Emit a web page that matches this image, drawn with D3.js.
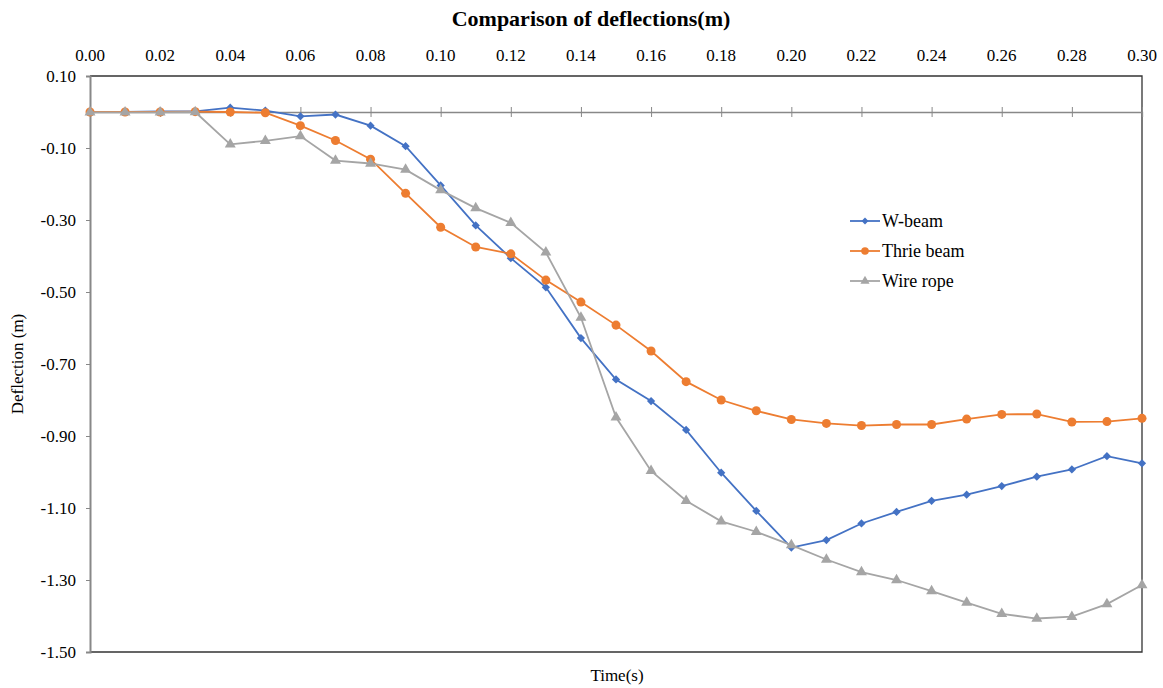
<!DOCTYPE html>
<meta charset="utf-8">
<style>
  body { margin: 0; background: white; }
  svg text { font-family: "Liberation Serif", "Times New Roman", Times, "DejaVu Serif", serif !important; fill: #000; }
</style>
<script src="https://cdn.jsdelivr.net/npm/d3@7"></script>
<body>
<div id="chart"></div>
<script>
// time steps (s)
const times = d3.range(0, 31).map(i => +(i * 0.01).toFixed(2));

// deflections (m)
const wBeam = [0, 0, 0.002, 0.002, 0.012, 0.004, -0.012, -0.007, -0.038, -0.095,
  -0.204, -0.315, -0.406, -0.487, -0.628, -0.743, -0.803, -0.883, -1.002, -1.108,
  -1.210, -1.189, -1.143, -1.111, -1.080, -1.063, -1.039, -1.013, -0.993, -0.956, -0.976];
const thrieBeam = [0, 0, 0, 0.001, 0, -0.002, -0.038, -0.079, -0.131, -0.226,
  -0.320, -0.375, -0.394, -0.467, -0.528, -0.592, -0.664, -0.749, -0.800, -0.830,
  -0.854, -0.865, -0.871, -0.868, -0.868, -0.853, -0.840, -0.839, -0.861, -0.860, -0.851];
const wireRope = [-0.001, -0.001, -0.001, 0, -0.090, -0.080, -0.067, -0.135, -0.143, -0.160,
  -0.217, -0.267, -0.308, -0.390, -0.571, -0.848, -0.997, -1.080, -1.137, -1.166,
  -1.203, -1.243, -1.278, -1.300, -1.331, -1.363, -1.394, -1.407, -1.402, -1.367, -1.314];

const xTicks = d3.range(0, 16).map(i => +(i * 0.02).toFixed(2));
const yTicks = [0.1, -0.1, -0.3, -0.5, -0.7, -0.9, -1.1, -1.3, -1.5];

// diamond = square turned 45 degrees
const series = [
  {name: "W-beam", values: wBeam, color: "#4472C4", symbol: d3.symbolSquare, size: 34, rot: 45},
  {name: "Thrie beam", values: thrieBeam, color: "#ED7D31", symbol: d3.symbolCircle, size: 64, rot: 0},
  {name: "Wire rope", values: wireRope, color: "#A5A5A5", symbol: d3.symbolTriangle, size: 52, rot: 0}
];

const width = 1163, height = 688;
const margin = {top: 76, right: 21, bottom: 36, left: 90};

const svg = d3.select("#chart").append("svg")
  .attr("width", width)
  .attr("height", height);

const x = d3.scaleLinear().domain([0, 0.30]).range([margin.left, width - margin.right]);
const y = d3.scaleLinear().domain([-1.5, 0.1]).range([height - margin.bottom, margin.top]);

// plot border (top, right, bottom)
svg.append("path")
  .attr("d", `M${x(0)},${y(0.1)}H${x(0.3)}V${y(-1.5)}H${x(0)}`)
  .attr("fill", "none")
  .attr("stroke", "#333")
  .attr("stroke-width", 1.3);

// zero line with ticks crossing it
const zeroAxis = svg.append("g")
  .attr("transform", `translate(0,${y(0)})`)
  .call(d3.axisBottom(x).tickValues(xTicks).tickSize(5).tickFormat(""));
zeroAxis.select(".domain").attr("stroke", "#888").attr("stroke-width", 1.3);
zeroAxis.selectAll(".tick line").attr("stroke", "#888").attr("y1", -5);

// x tick labels along top
svg.append("g").selectAll("text")
  .data(xTicks)
  .join("text")
    .attr("x", d => x(d))
    .attr("y", 61)
    .attr("text-anchor", "middle")
    .style("font-size", "17px")
    .text(d => d.toFixed(2));

// y axis on the left
const yAxis = svg.append("g")
  .attr("transform", `translate(${x(0)},0)`)
  .call(d3.axisLeft(y).tickValues(yTicks).tickSize(4).tickPadding(10).tickFormat(d3.format(".2f")));
yAxis.attr("font-family", null);
yAxis.select(".domain").attr("stroke", "#888").attr("stroke-width", 2);
yAxis.selectAll(".tick line").attr("stroke", "#888");
yAxis.selectAll(".tick text")
  .style("font-size", "17px")
  .attr("fill", "#000")
  .text(d => d.toFixed(2));

const line = d3.line().x((d, i) => x(times[i])).y(d => y(d));

series.forEach(s => {
  svg.append("path")
    .datum(s.values)
    .attr("fill", "none")
    .attr("stroke", s.color)
    .attr("stroke-width", 1.8)
    .attr("d", line);
  svg.append("g").selectAll("path")
    .data(s.values)
    .join("path")
      .attr("transform", (d, i) => `translate(${x(times[i])},${y(d)}) rotate(${s.rot})`)
      .attr("d", d3.symbol().type(s.symbol).size(s.size))
      .attr("fill", s.color);
});

// legend
const legend = svg.append("g").attr("transform", "translate(850,221)");
series.forEach((s, i) => {
  const g = legend.append("g").attr("transform", `translate(0,${i * 30})`);
  g.append("line").attr("x1", 0).attr("x2", 30).attr("stroke", s.color).attr("stroke-width", 1.8);
  g.append("path").attr("transform", `translate(15,0) rotate(${s.rot})`)
    .attr("d", d3.symbol().type(s.symbol).size(s.size * 0.7))
    .attr("fill", s.color);
  g.append("text").attr("x", 32).attr("y", 6).style("font-size", "18px").text(s.name);
});

// titles
svg.append("text")
  .attr("x", 591).attr("y", 26)
  .attr("text-anchor", "middle")
  .style("font-size", "22px").style("font-weight", "bold")
  .text("Comparison of deflections(m)");

svg.append("text")
  .attr("x", 617).attr("y", 681)
  .attr("text-anchor", "middle")
  .style("font-size", "17px")
  .text("Time(s)");

svg.append("text")
  .attr("transform", "translate(23,364) rotate(-90)")
  .attr("text-anchor", "middle")
  .style("font-size", "17px")
  .text("Deflection (m)");
</script>
</body>
